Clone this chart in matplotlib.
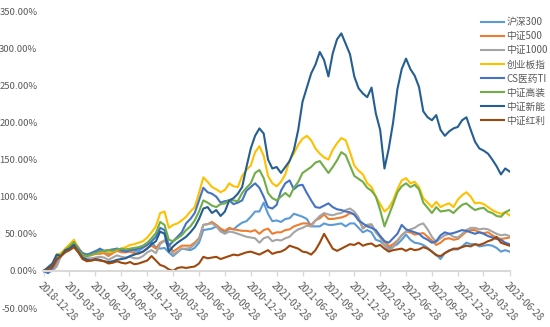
import matplotlib
matplotlib.use('Agg')
import matplotlib.pyplot as plt
import matplotlib.dates as mdates
import pandas as pd

plt.rcParams['font.family'] = ['Noto Sans CJK SC', 'DejaVu Sans']

# 累计收益 (%)，半月一个点，2018-12-28 至 2023-06-28
hs300 = [0, 2, 6, 10, 22, 26, 29, 36, 30, 22, 20, 24, 27, 28, 27, 23, 26, 30, 27, 28,
         29, 27, 27, 31, 36, 38, 32, 30, 31, 25, 20, 25, 30, 29, 28, 31, 38, 55, 56, 57,
         60, 55, 52, 57, 56, 61, 65, 67, 73, 80, 80, 92, 77, 67, 68, 66, 70, 71, 77, 75,
         73, 70, 60, 60, 60, 64, 62, 62, 63, 64, 60, 64, 64, 58, 52, 55, 52, 42, 40, 35,
         30, 33, 36, 42, 49, 42, 38, 37, 35, 31, 26, 22, 16, 24, 28, 29, 29, 33, 38, 36,
         36, 33, 34, 35, 34, 31, 26, 28, 26]
zz500 = [0, 0, 2, 8, 21, 28, 33, 40, 32, 22, 20, 21, 23, 23, 24, 20, 24, 27, 25, 25,
         26, 24, 23, 26, 31, 34, 30, 38, 41, 36, 26, 30, 34, 34, 34, 38, 44, 62, 63, 66,
         62, 57, 54, 58, 56, 55, 54, 54, 53, 55, 50, 55, 57, 50, 52, 52, 55, 56, 60, 62,
         64, 64, 62, 68, 71, 76, 70, 70, 71, 72, 74, 78, 76, 70, 57, 62, 62, 52, 47, 40,
         33, 36, 41, 48, 53, 52, 49, 50, 51, 46, 41, 35, 38, 43, 44, 42, 43, 48, 53, 55,
         55, 52, 51, 52, 48, 45, 43, 44, 45]
zz1000 = [0, -2, 0, 6, 20, 30, 35, 40, 30, 20, 17, 17, 18, 19, 18, 15, 18, 21, 19, 18,
          19, 17, 17, 20, 25, 28, 24, 36, 41, 34, 22, 26, 30, 30, 31, 36, 42, 62, 63, 64,
          60, 53, 50, 53, 52, 50, 48, 46, 45, 44, 38, 44, 46, 40, 42, 41, 44, 46, 52, 56,
          58, 61, 60, 68, 74, 78, 76, 75, 77, 78, 82, 84, 80, 72, 58, 62, 63, 52, 45, 35,
          27, 32, 40, 48, 53, 56, 58, 62, 64, 56, 46, 39, 44, 48, 50, 46, 45, 50, 55, 58,
          58, 56, 57, 56, 53, 50, 48, 49, 47]
cyb = [0, 3, 8, 22, 24, 30, 36, 42, 30, 24, 22, 22, 24, 25, 27, 25, 26, 28, 30, 32,
       35, 36, 38, 40, 45, 52, 60, 78, 80, 58, 62, 64, 68, 73, 80, 86, 105, 126, 120, 113,
       110, 106, 109, 118, 114, 113, 128, 136, 142, 160, 168, 155, 128, 118, 114, 120, 130, 149, 158, 170,
       178, 182, 176, 165, 158, 153, 150, 163, 172, 179, 176, 160, 142, 135, 130, 118, 113, 100, 90, 80,
       85, 95, 110, 122, 125, 118, 120, 113, 98, 92, 86, 93, 86, 89, 91, 86, 96, 102, 106, 100,
       91, 92, 90, 86, 82, 79, 77, 79, 75]
yiyao = [0, -3, 4, 15, 20, 26, 30, 38, 30, 24, 22, 24, 26, 30, 27, 28, 29, 30, 28, 26,
         28, 29, 30, 32, 35, 40, 46, 58, 55, 34, 40, 46, 52, 64, 70, 78, 95, 112, 106, 104,
         100, 92, 94, 95, 90, 92, 95, 108, 113, 118, 112, 100, 86, 84, 89, 108, 118, 122, 110, 115,
         116, 105, 95, 86, 85, 88, 91, 86, 83, 82, 80, 79, 76, 68, 64, 60, 58, 55, 47, 40,
         38, 44, 50, 62, 56, 54, 52, 50, 45, 42, 38, 40, 48, 52, 50, 51, 53, 55, 54, 52,
         50, 52, 50, 47, 45, 43, 42, 38, 36]
gaozhuang = [0, 3, 8, 20, 22, 28, 33, 39, 28, 22, 20, 22, 24, 26, 27, 28, 27, 29, 30, 29,
             30, 31, 32, 34, 38, 44, 51, 66, 62, 42, 40, 44, 48, 55, 60, 68, 80, 95, 92, 88,
             86, 90, 91, 95, 95, 94, 105, 112, 118, 132, 136, 125, 105, 98, 95, 100, 105, 100, 112, 120,
             132, 136, 140, 146, 148, 140, 132, 140, 149, 160, 156, 142, 128, 124, 120, 112, 108, 100, 82, 60,
             75, 90, 106, 114, 118, 113, 116, 110, 92, 85, 78, 86, 80, 81, 82, 78, 84, 89, 91, 86,
             82, 84, 85, 80, 78, 74, 73, 79, 82]
xinneng = [0, 5, 10, 22, 20, 28, 30, 35, 26, 18, 15, 14, 16, 15, 13, 12, 13, 15, 16, 17,
           20, 22, 24, 26, 30, 36, 40, 53, 50, 26, 33, 38, 42, 46, 52, 59, 70, 84, 86, 78,
           82, 74, 80, 95, 98, 104, 113, 140, 165, 182, 192, 185, 150, 138, 140, 132, 140, 148, 163, 190,
           228, 247, 266, 278, 295, 284, 262, 293, 312, 320, 306, 292, 262, 246, 239, 234, 247, 212, 190, 138,
           165, 200, 245, 272, 286, 272, 263, 248, 215, 207, 203, 210, 190, 182, 188, 192, 194, 203, 207, 190,
           174, 165, 162, 158, 150, 141, 130, 138, 134]
hongli = [0, 2, 6, 16, 20, 25, 28, 32, 25, 16, 13, 14, 15, 14, 13, 10, 11, 13, 11, 10,
          12, 9, 10, 12, 14, 20, 14, 8, 6, 2, 0, 4, 5, 4, 5, 6, 10, 19, 17, 18,
          19, 16, 18, 20, 22, 21, 23, 25, 26, 24, 22, 25, 28, 23, 25, 26, 29, 34, 32, 30,
          26, 25, 22, 28, 38, 50, 40, 30, 27, 30, 33, 36, 35, 38, 34, 36, 37, 33, 35, 30,
          26, 28, 29, 30, 27, 30, 28, 29, 32, 30, 26, 21, 20, 24, 27, 30, 30, 32, 34, 33,
          36, 35, 37, 40, 42, 46, 38, 36, 34]

names = ['沪深300', '中证500', '中证1000', '创业板指', 'CS医药TI', '中证高装', '中证新能', '中证红利']
series = [hs300, zz500, zz1000, cyb, yiyao, gaozhuang, xinneng, hongli]
colors = ['#5B9BD5', '#ED7D31', '#A5A5A5', '#FFC000', '#4472C4', '#70AD47', '#255E91', '#9E480E']

dates = pd.date_range('2018-12-28', '2023-06-28', periods=len(hs300))
tick_dates = pd.to_datetime(['2018-12-28', '2019-03-28', '2019-06-28', '2019-09-28', '2019-12-28',
                             '2020-03-28', '2020-06-28', '2020-09-28', '2020-12-28', '2021-03-28',
                             '2021-06-28', '2021-09-28', '2021-12-28', '2022-03-28', '2022-06-28',
                             '2022-09-28', '2022-12-28', '2023-03-28', '2023-06-28'])

fig = plt.figure(figsize=(5.5, 3.27), dpi=100)
ax = fig.add_axes([0.078, 0.058, 0.85, 0.908])

for name, vals, c in zip(names, series, colors):
    ax.plot(dates, [v / 100 for v in vals], color=c, lw=1.5, label=name)

ax.set_ylim(-0.5, 3.5)
ax.set_yticks([-0.5, 0, 0.5, 1.0, 1.5, 2.0, 2.5, 3.0, 3.5])
ax.set_yticklabels(['{:.2f}%'.format(v * 100) for v in ax.get_yticks()])
ax.set_xlim(pd.Timestamp('2018-12-25'), pd.Timestamp('2023-07-01'))
ax.set_xticks(tick_dates)
ax.xaxis.set_major_formatter(mdates.DateFormatter('%Y-%m-%d'))

for s in ['top', 'right', 'left']:
    ax.spines[s].set_visible(False)
ax.spines['bottom'].set_position(('data', 0))
ax.spines['bottom'].set_color('#D9D9D9')
ax.spines['bottom'].set_linewidth(1.5)

ax.tick_params(axis='y', length=0, labelsize=6.8, labelcolor='#595959', pad=4)
ax.tick_params(axis='x', length=3.5, color='#D9D9D9', width=1, labelsize=7, labelcolor='#595959', pad=3)
for lab in ax.get_xticklabels():
    lab.set_rotation(-45)
    lab.set_ha('left')
    lab.set_va('top')
    lab.set_rotation_mode('anchor')

leg = ax.legend(loc='upper left', bbox_to_anchor=(0.866, 0.962), bbox_transform=fig.transFigure,
                frameon=False, fontsize=7, handlelength=2.3, handletextpad=0.3,
                labelspacing=0.42, borderpad=0)
for t in leg.get_texts():
    t.set_color('#595959')

fig.savefig('out.png', dpi=100)
